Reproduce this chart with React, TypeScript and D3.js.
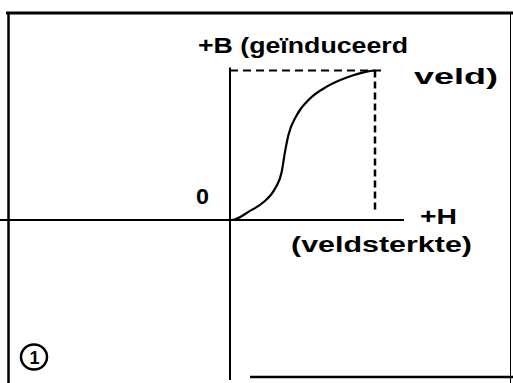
import React from "react";
import * as d3 from "d3";

// Magnetization curve: H (field strength, normalised) vs B (induced field, normalised)
const hValues = [0, 0.012, 0.138, 0.228, 0.31, 0.356, 0.379, 0.402, 0.46, 0.552, 0.667, 0.805, 0.943, 1];
const bValues = [0, 0, 0.061, 0.117, 0.209, 0.319, 0.454, 0.566, 0.701, 0.813, 0.892, 0.953, 0.993, 1];

const axisLabelB = ["+B (geïnduceerd", "veld)"];
const axisLabelH = ["+H", "(veldsterkte)"];
const originLabel = "0";
const figureNumber = "1";

const hExtent = [-1.59, 1.2];
const bExtent = [-1.07, 1.02];

export default function App() {
  const W = 513;
  const H = 383;
  const x = d3.scaleLinear().domain([0, 1]).range([230, 375]);
  const y = d3.scaleLinear().domain([0, 1]).range([220, 70.5]);

  const pts: [number, number][] = hValues.map((h, i) => [h, bValues[i]]);
  const line = d3
    .line<[number, number]>()
    .x((d) => x(d[0]))
    .y((d) => y(d[1]))
    .curve(d3.curveMonotoneX);

  const font = "'Liberation Sans', Arial, Helvetica, sans-serif";
  const textStyle = { fontFamily: font, fontWeight: 700, fontSize: 22, fill: "#000" } as const;

  return (
    <svg
      width={W}
      height={H}
      style={{ position: "absolute", left: 0, top: 0, background: "#fff" }}
    >
      <rect width={W} height={H} fill="#fff" />
      {/* frame */}
      <line x1={6} y1={13} x2={W} y2={13} stroke="#000" strokeWidth={3} />
      <line x1={8.5} y1={12} x2={8.5} y2={H} stroke="#000" strokeWidth={2.5} />
      <line x1={510.5} y1={12} x2={510.5} y2={H} stroke="#000" strokeWidth={1} />
      <line x1={250} y1={377} x2={W} y2={377} stroke="#000" strokeWidth={2.5} />

      {/* axes */}
      <line
        x1={x(hExtent[0])}
        y1={y(0)}
        x2={x(hExtent[1])}
        y2={y(0)}
        stroke="#000"
        strokeWidth={2}
      />
      <line
        x1={x(0)}
        y1={y(bExtent[1])}
        x2={x(0)}
        y2={y(bExtent[0])}
        stroke="#000"
        strokeWidth={2}
      />

      {/* saturation dashed lines */}
      <line
        x1={x(0)}
        y1={y(1)}
        x2={x(1.05)}
        y2={y(1)}
        stroke="#000"
        strokeWidth={2}
        strokeDasharray="8 5"
      />
      <line
        x1={x(1)}
        y1={y(1)}
        x2={x(1)}
        y2={y(0.05)}
        stroke="#000"
        strokeWidth={2.5}
        strokeDasharray="7 4"
      />

      {/* curve */}
      <path d={line(pts) || ""} fill="none" stroke="#000" strokeWidth={2.2} />

      {/* labels */}
      <text x={198} y={53} textLength={210} lengthAdjust="spacingAndGlyphs" style={textStyle}>
        {axisLabelB[0]}
      </text>
      <text x={414} y={84} textLength={84} lengthAdjust="spacingAndGlyphs" style={textStyle}>
        {axisLabelB[1]}
      </text>
      <text x={196} y={204} textLength={13} lengthAdjust="spacingAndGlyphs" style={{ ...textStyle, fontSize: 22 }}>
        {originLabel}
      </text>
      <text x={420} y={224} textLength={37} lengthAdjust="spacingAndGlyphs" style={textStyle}>
        {axisLabelH[0]}
      </text>
      <text x={291} y={252} textLength={181} lengthAdjust="spacingAndGlyphs" style={textStyle}>
        {axisLabelH[1]}
      </text>

      {/* figure number */}
      <ellipse cx={34} cy={357} rx={13} ry={12.5} fill="none" stroke="#000" strokeWidth={2.5} />
      <text x={34.5} y={364} textAnchor="middle" style={{ ...textStyle, fontSize: 18 }}>
        {figureNumber}
      </text>
    </svg>
  );
}
